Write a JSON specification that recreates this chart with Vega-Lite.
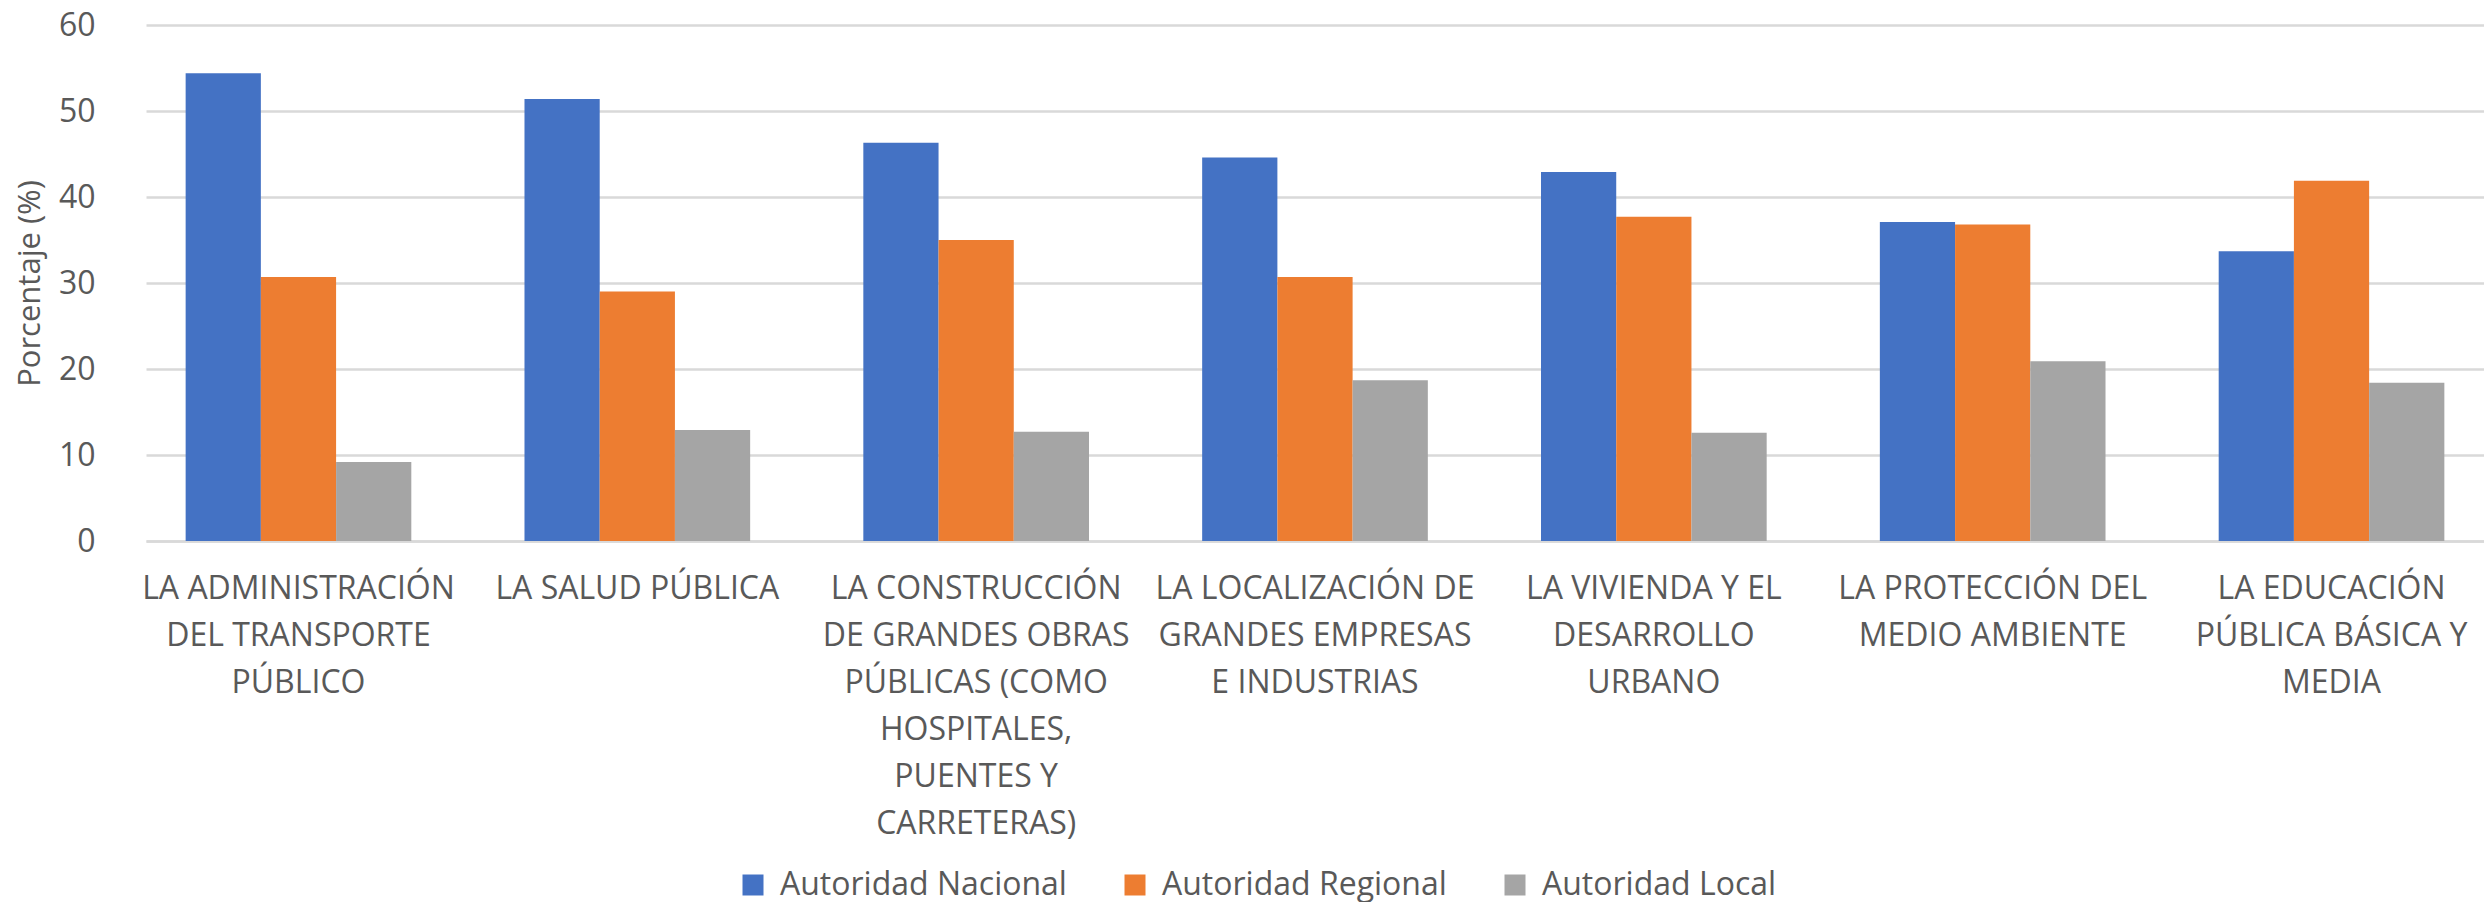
{
  "$schema": "https://vega.github.io/schema/vega-lite/v6.json",
  "autosize": {"type": "none"},
  "padding": {"left": 146, "top": 25, "right": 0, "bottom": 361},
  "width": 2338,
  "height": 516,
  "background": "white",
  "config": {
    "font": "Open Sans",
    "view": {"stroke": null},
    "axis": {"labelColor": "#595959", "titleColor": "#595959"}
  },
  "data": {
    "values": [
      {"categoria": "LA ADMINISTRACIÓN\nDEL TRANSPORTE\nPÚBLICO", "serie": "Autoridad Nacional", "valor": 54.4},
      {"categoria": "LA ADMINISTRACIÓN\nDEL TRANSPORTE\nPÚBLICO", "serie": "Autoridad Regional", "valor": 30.7},
      {"categoria": "LA ADMINISTRACIÓN\nDEL TRANSPORTE\nPÚBLICO", "serie": "Autoridad Local", "valor": 9.2},
      {"categoria": "LA SALUD PÚBLICA", "serie": "Autoridad Nacional", "valor": 51.4},
      {"categoria": "LA SALUD PÚBLICA", "serie": "Autoridad Regional", "valor": 29.0},
      {"categoria": "LA SALUD PÚBLICA", "serie": "Autoridad Local", "valor": 12.9},
      {"categoria": "LA CONSTRUCCIÓN\nDE GRANDES OBRAS\nPÚBLICAS (COMO\nHOSPITALES,\nPUENTES Y\nCARRETERAS)", "serie": "Autoridad Nacional", "valor": 46.3},
      {"categoria": "LA CONSTRUCCIÓN\nDE GRANDES OBRAS\nPÚBLICAS (COMO\nHOSPITALES,\nPUENTES Y\nCARRETERAS)", "serie": "Autoridad Regional", "valor": 35.0},
      {"categoria": "LA CONSTRUCCIÓN\nDE GRANDES OBRAS\nPÚBLICAS (COMO\nHOSPITALES,\nPUENTES Y\nCARRETERAS)", "serie": "Autoridad Local", "valor": 12.7},
      {"categoria": "LA LOCALIZACIÓN DE\nGRANDES EMPRESAS\nE INDUSTRIAS", "serie": "Autoridad Nacional", "valor": 44.6},
      {"categoria": "LA LOCALIZACIÓN DE\nGRANDES EMPRESAS\nE INDUSTRIAS", "serie": "Autoridad Regional", "valor": 30.7},
      {"categoria": "LA LOCALIZACIÓN DE\nGRANDES EMPRESAS\nE INDUSTRIAS", "serie": "Autoridad Local", "valor": 18.7},
      {"categoria": "LA VIVIENDA Y EL\nDESARROLLO\nURBANO", "serie": "Autoridad Nacional", "valor": 42.9},
      {"categoria": "LA VIVIENDA Y EL\nDESARROLLO\nURBANO", "serie": "Autoridad Regional", "valor": 37.7},
      {"categoria": "LA VIVIENDA Y EL\nDESARROLLO\nURBANO", "serie": "Autoridad Local", "valor": 12.6},
      {"categoria": "LA PROTECCIÓN DEL\nMEDIO AMBIENTE", "serie": "Autoridad Nacional", "valor": 37.1},
      {"categoria": "LA PROTECCIÓN DEL\nMEDIO AMBIENTE", "serie": "Autoridad Regional", "valor": 36.8},
      {"categoria": "LA PROTECCIÓN DEL\nMEDIO AMBIENTE", "serie": "Autoridad Local", "valor": 20.9},
      {"categoria": "LA EDUCACIÓN\nPÚBLICA BÁSICA Y\nMEDIA", "serie": "Autoridad Nacional", "valor": 33.7},
      {"categoria": "LA EDUCACIÓN\nPÚBLICA BÁSICA Y\nMEDIA", "serie": "Autoridad Regional", "valor": 41.9},
      {"categoria": "LA EDUCACIÓN\nPÚBLICA BÁSICA Y\nMEDIA", "serie": "Autoridad Local", "valor": 18.4}
    ]
  },
  "mark": {"type": "bar"},
  "encoding": {
    "x": {
      "field": "categoria",
      "type": "nominal",
      "sort": null,
      "scale": {"paddingInner": 0.334, "paddingOuter": 0.117},
      "axis": {
        "title": null,
        "labelAngle": 0,
        "labelExpr": "split(datum.label, '\\n')",
        "labelFontSize": 32,
        "labelLineHeight": 47,
        "labelLimit": 600,
        "labelPadding": 32,
        "labelBaseline": "top",
        "ticks": false,
        "domain": true,
        "domainColor": "#d9d9d9",
        "domainWidth": 2.5
      }
    },
    "xOffset": {
      "field": "serie",
      "type": "nominal",
      "sort": ["Autoridad Nacional", "Autoridad Regional", "Autoridad Local"],
      "scale": {"paddingInner": 0, "paddingOuter": 0}
    },
    "y": {
      "field": "valor",
      "type": "quantitative",
      "scale": {"domain": [0, 60], "nice": false},
      "axis": {
        "title": "Porcentaje (%)",
        "titleFontSize": 31,
        "titleFontWeight": "normal",
        "titleX": -116,
        "titleY": 258,
        "titleAngle": -90,
        "titleBaseline": "middle",
        "titleAlign": "center",
        "values": [0, 10, 20, 30, 40, 50, 60],
        "labelFontSize": 32,
        "labelPadding": 51,
        "ticks": false,
        "domain": false,
        "grid": true,
        "gridColor": "#d9d9d9",
        "gridWidth": 2.5
      }
    },
    "color": {
      "field": "serie",
      "type": "nominal",
      "sort": ["Autoridad Nacional", "Autoridad Regional", "Autoridad Local"],
      "scale": {
        "domain": ["Autoridad Nacional", "Autoridad Regional", "Autoridad Local"],
        "range": ["#4472C4", "#ED7D31", "#A5A5A5"]
      },
      "legend": {
        "title": null,
        "orient": "none",
        "direction": "horizontal",
        "legendX": 591,
        "legendY": 844,
        "symbolType": "square",
        "symbolSize": 441,
        "symbolStrokeWidth": 0,
        "symbolOpacity": 1,
        "labelFontSize": 32,
        "labelColor": "#595959",
        "labelOffset": 11,
        "labelLimit": 500,
        "columnPadding": 52
      }
    }
  }
}
